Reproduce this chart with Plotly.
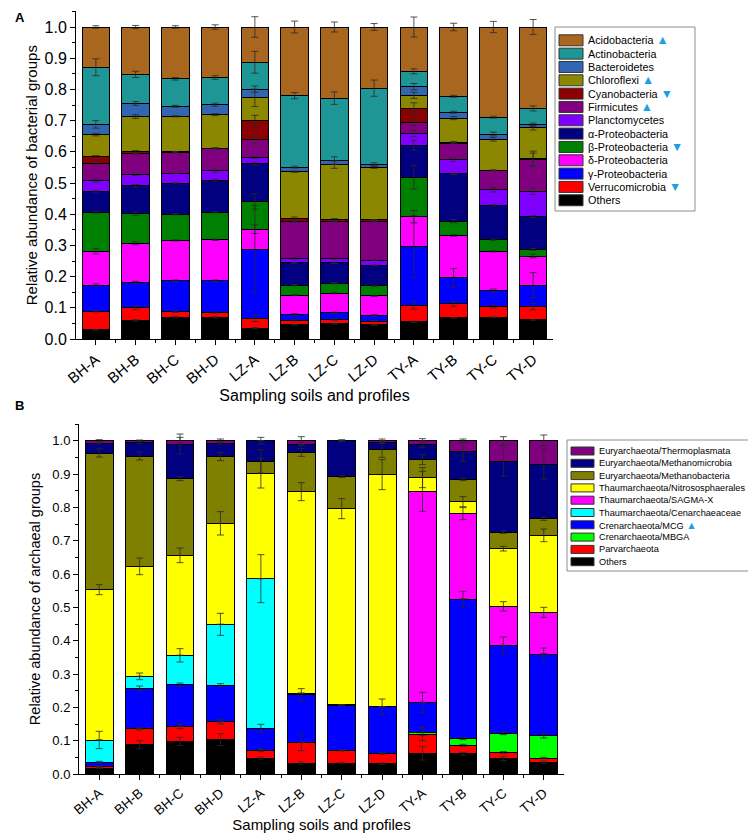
import numpy as np
import plotly.graph_objects as go

W, H = 756, 835
FONT = 'Arial, Liberation Sans, sans-serif'
TRI = '#1BA1E2'

sites = ['BH-A', 'BH-B', 'BH-C', 'BH-D', 'LZ-A', 'LZ-B', 'LZ-C', 'LZ-D', 'TY-A', 'TY-B', 'TY-C', 'TY-D']

#### bacteria: relative abundance per site (bottom of stack first)
others_b = [.029, .060, .070, .069, .035, .046, .049, .045, .055, .068, .070, .061]
verruco = [.060, .040, .017, .016, .031, .014, .013, .012, .053, .045, .035, .043]
gamma = [.084, .082, .099, .101, .222, .018, .022, .019, .188, .083, .050, .069]
delta = [.108, .125, .130, .132, .064, .063, .063, .062, .096, .136, .126, .093]
beta = [.125, .095, .084, .088, .089, .032, .032, .032, .127, .046, .037, .021]
alpha = [.068, .089, .100, .103, .120, .071, .065, .066, .102, .151, .111, .105]
plancto = [.034, .036, .031, .031, .021, .015, .014, .017, .037, .045, .049, .081]
firmi = [.054, .066, .067, .070, .057, .118, .119, .124, .037, .054, .062, .103]
cyano = [.023, .007, .002, .002, .060, .008, .005, .005, .045, .003, .001, .001]
chloro = [.070, .113, .114, .107, .074, .151, .177, .168, .041, .077, .099, .100]
bactero = [.033, .042, .032, .032, .028, .015, .013, .010, .028, .019, .017, .010]
actino = [.183, .093, .088, .087, .086, .229, .200, .244, .049, .051, .054, .052]
acido = [.129, .152, .166, .162, .113, .220, .228, .196, .142, .222, .289, .261]

# error bars (sd at the top of each segment)
err_others_b = [.001, .002, .002, .002, .002, .001, .001, .001, .002, .001, .001, .001]
err_verruco = [.002, .006, .002, .002, .010, .002, .002, .002, .012, .008, .005, .010]
err_gamma = [.003, .003, .003, .003, .140, .003, .002, .002, .100, .030, .005, .040]
err_delta = [.008, .005, .002, .002, .014, .002, .002, .002, .020, .003, .002, .006]
err_beta = [.003, .005, .002, .002, .025, .002, .002, .002, .038, .005, .002, .003]
err_alpha = [.003, .004, .002, .003, .004, .001, .002, .001, .016, .002, .002, .003]
err_plancto = [.005, .003, .001, .005, .003, .003, .002, .001, .010, .005, .007, .010]
err_firmi = [.003, .002, .002, .002, .014, .002, .002, .001, .010, .002, .001, .020]
err_cyano = [.003, .004, .001, .001, .018, .006, .004, .001, .017, .002, .001, .025]
err_chloro = [.004, .006, .002, .003, .028, .002, .012, .003, .010, .005, .006, .007]
err_bactero = [.012, .006, .003, .005, .010, .003, .012, .005, .010, .003, .006, .005]
err_actino = [.027, .010, .004, .006, .035, .010, .020, .026, .008, .003, .003, .008]
err_acido = [.004, .005, .004, .007, .033, .019, .016, .011, .032, .012, .018, .024]

#### archaea
others_a = [.018, .088, .098, .103, .048, .033, .033, .031, .062, .061, .046, .036]
parv = [.005, .048, .045, .054, .024, .062, .038, .031, .058, .025, .018, .012]
mbga = [0, 0, 0, 0, 0, 0, 0, 0, .005, .020, .058, .068]
mcg = [.013, .120, .125, .109, .065, .143, .135, .140, .090, .419, .264, .244]
cenar = [.066, .037, .088, .183, .449, .004, .002, 0, 0, 0, 0, 0]
sagma = [0, 0, 0, 0, 0, 0, 0, 0, .633, .256, .117, .125]
nitroso = [.451, .330, .300, .303, .317, .605, .588, .696, .041, .036, .173, .231]
mbac = [.410, .331, .230, .200, .035, .118, .096, .077, .054, .066, .050, .050]
mmic = [.030, .041, .104, .041, .062, .025, .108, .020, .047, .085, .212, .164]
thermo = [.007, .005, .010, .007, 0, .010, 0, .005, .010, .032, .062, .070]

err_others_a = [.001, .012, .012, .018, .003, .003, .002, .002, .020, .004, .006, .003]
err_parv = [.001, .004, .007, .007, .005, .025, .002, .003, .020, .003, .003, .002]
err_mbga = [0, 0, 0, 0, 0, 0, 0, 0, .010, .003, .004, .008]
err_mcg = [.002, .008, .005, .005, .012, .018, .002, .023, .030, .023, .025, .018]
err_cenar = [.026, .010, .020, .033, .072, 0, 0, 0, 0, 0, 0, 0]
err_sagma = [0, 0, 0, 0, 0, 0, 0, 0, .060, .018, .014, .015]
err_nitroso = [.015, .025, .022, .035, .045, .027, .030, .045, .030, .015, .007, .019]
err_mbac = [.012, .012, .006, .012, .035, .012, .003, .025, .015, .003, .004, .005]
err_mmic = [.002, .003, .030, .003, .010, .004, .003, .003, .010, .030, .045, .045]
err_thermo = [.003, .002, .010, .005, .025, .012, .015, .005, .006, .005, .012, .017]

# (name, values, errors, colour, flag) bottom -> top
bacteria = [
    ('Others', others_b, err_others_b, '#000000', ''),
    ('Verrucomicrobia', verruco, err_verruco, '#FF0000', '▼'),
    ('γ-Proteobacteria', gamma, err_gamma, '#0000FF', ''),
    ('δ-Proteobacteria', delta, err_delta, '#FF00FF', ''),
    ('β-Proteobacteria', beta, err_beta, '#008000', '▼'),
    ('α-Proteobacteria', alpha, err_alpha, '#000080', ''),
    ('Planctomycetes', plancto, err_plancto, '#8000FF', ''),
    ('Firmicutes', firmi, err_firmi, '#800080', '▲'),
    ('Cyanobacteria', cyano, err_cyano, '#8B0000', '▼'),
    ('Chloroflexi', chloro, err_chloro, '#8C8700', '▲'),
    ('Bacteroidetes', bactero, err_bactero, '#3366B0', ''),
    ('Actinobacteria', actino, err_actino, '#1F9696', ''),
    ('Acidobacteria', acido, err_acido, '#A8661F', '▲'),
]
archaea = [
    ('Others', others_a, err_others_a, '#000000', ''),
    ('Parvarchaeota', parv, err_parv, '#FF0000', ''),
    ('Crenarchaeota/MBGA', mbga, err_mbga, '#00FF00', ''),
    ('Crenarchaeota/MCG', mcg, err_mcg, '#0000FF', '▲'),
    ('Thaumarchaeota/Cenarchaeaceae', cenar, err_cenar, '#00FFFF', ''),
    ('Thaumarchaeota/SAGMA-X', sagma, err_sagma, '#FF00FF', ''),
    ('Thaumarchaeota/Nitrososphaerales', nitroso, err_nitroso, '#FFFF00', ''),
    ('Euryarchaeota/Methanobacteria', mbac, err_mbac, '#808000', ''),
    ('Euryarchaeota/Methanomicrobia', mmic, err_mmic, '#000080', ''),
    ('Euryarchaeota/Thermoplasmata', thermo, err_thermo, '#800080', ''),
]

xpos = np.arange(len(sites))


def px_x(p):
    return p / W


def px_y(p):
    return 1 - p / H


def add_stack(fig, groups, xa, ya):
    for name, vals, errs, color, flag in groups:
        fig.add_trace(go.Bar(x=xpos, y=vals, name=name, width=0.69,
                             marker=dict(color=color, line=dict(color='black', width=1)),
                             xaxis=xa, yaxis=ya, showlegend=False))
    # error bars drawn on top of all bars, at the top of each segment
    cum = np.zeros(len(sites))
    for name, vals, errs, color, flag in groups:
        vals = np.array(vals, dtype=float)
        cum = cum + vals
        e = [er if v > 0 else None for v, er in zip(vals, errs)]
        fig.add_trace(go.Scatter(x=xpos, y=cum.copy(), mode='markers',
                                 marker=dict(size=2, opacity=0),
                                 error_y=dict(type='data', array=e, color='#2a2a2a',
                                              thickness=0.8, width=3.5),
                                 xaxis=xa, yaxis=ya, showlegend=False, hoverinfo='skip'))


def add_legend(fig, groups, left, right, top, bottom, row0, row_h, sw0, sw1, sw_h, tx, size):
    fig.add_shape(type='rect', xref='paper', yref='paper',
                  x0=px_x(left), x1=px_x(right), y0=px_y(bottom), y1=px_y(top),
                  line=dict(color='#8c8c8c', width=1), fillcolor='white')
    for i, (name, vals, errs, color, flag) in enumerate(groups[::-1]):
        yc = row0 + i * row_h
        fig.add_shape(type='rect', xref='paper', yref='paper',
                      x0=px_x(sw0), x1=px_x(sw1), y0=px_y(yc + sw_h / 2), y1=px_y(yc - sw_h / 2),
                      line=dict(color='#333333', width=1), fillcolor=color)
        txt = name
        if flag:
            txt += f' <span style="color:{TRI};font-size:{size + 1.5}px">{flag}</span>'
        fig.add_annotation(x=px_x(tx), y=px_y(yc), xref='paper', yref='paper', text=txt,
                           showarrow=False, xanchor='left', yanchor='middle',
                           font=dict(size=size, color='black', family=FONT))


fig = go.Figure()
add_stack(fig, bacteria, 'x', 'y')
add_stack(fig, archaea, 'x2', 'y2')

xax = dict(tickvals=xpos, ticktext=sites, range=[-0.5, len(sites) - 0.5], automargin=False,
           showline=True, linecolor='black', linewidth=1, ticks='outside', ticklen=5,
           tickcolor='black', tickangle=-40, showgrid=False, zeroline=False,
           minor=dict(tickvals=xpos[:-1] + 0.5, ticks='outside', ticklen=3, tickcolor='black'))
yax = dict(range=[0, 1.05], dtick=0.1, tickformat='.1f', showline=True, linecolor='black',
           linewidth=1, ticks='outside', ticklen=5, tickcolor='black', showgrid=False,
           zeroline=False, automargin=False,
           minor=dict(dtick=0.05, ticks='outside', ticklen=3, tickcolor='black'))

fig.update_layout(
    width=W, height=H, barmode='stack', plot_bgcolor='white', paper_bgcolor='white',
    margin=dict(l=0, r=0, t=0, b=0), font=dict(family=FONT, color='black'),
    xaxis=dict(xax, domain=[px_x(68), px_x(545)], anchor='y', tickfont=dict(size=15),
               title=dict(text='Sampling soils and profiles', font=dict(size=16), standoff=1)),
    yaxis=dict(yax, domain=[px_y(331), px_y(3.4)], anchor='x', tickfont=dict(size=16),
               title=dict(text='Relative abundance of bacterial groups', font=dict(size=15), standoff=3)),
    xaxis2=dict(xax, domain=[px_x(71), px_x(556)], anchor='y2', tickfont=dict(size=13.5),
                title=dict(text='Sampling soils and profiles', font=dict(size=15), standoff=0)),
    yaxis2=dict(yax, domain=[px_y(766), px_y(416)], anchor='x2', tickfont=dict(size=13),
                title=dict(text='Relative abundance of archaeal groups', font=dict(size=14.5), standoff=8)),
)

add_legend(fig, bacteria, 547, 687, 19, 203, 32.3, 13.33, 551, 575, 11, 578, 10.8)
add_legend(fig, archaea, 559, 752, 432, 563, 443, 12.3, 563, 586, 8, 589, 9.2)

fig.add_annotation(x=px_x(5), y=px_y(10), xref='paper', yref='paper', text='<b>A</b>',
                   showarrow=False, xanchor='left', yanchor='middle', font=dict(size=13))
fig.add_annotation(x=px_x(5), y=px_y(398), xref='paper', yref='paper', text='<b>B</b>',
                   showarrow=False, xanchor='left', yanchor='middle', font=dict(size=13))

fig.write_html('out.html')
